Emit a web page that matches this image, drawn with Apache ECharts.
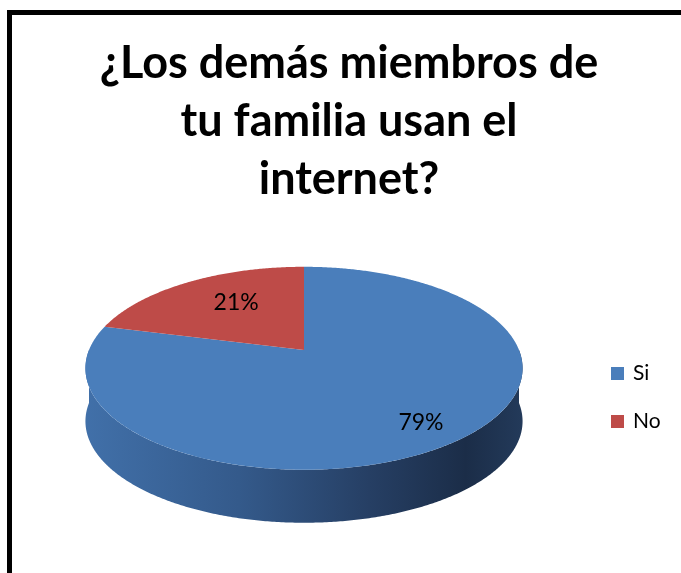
<!DOCTYPE html>
<html><head><meta charset="utf-8">
<script src="https://cdn.jsdelivr.net/npm/echarts@6/dist/echarts.min.js"></script>
<style>html,body{margin:0;padding:0;background:#fff}#c{width:681px;height:573px}</style>
</head><body><div id="c"></div>
<script>
const titleText = '¿Los demás miembros de\ntu familia usan el\ninternet?';
const categories = ['Si', 'No'];
const values = [79, 21];
const topColors = ['#4a7ebb', '#be4b48'];

const chart = echarts.init(document.getElementById('c'), null, {renderer: 'canvas'});
const total = values.reduce((a, b) => a + b, 0);
const starts = [];
let acc = 0;
values.forEach(v => { starts.push(acc); acc += v; });

// projection settings (style/layout)
const P = {cx: 304, cy: 350, kx: 215, ky: 98.2, s: 0.18, depth: 53};
const labelR = [0.8, 0.6];
const labelNudge = [[-2, 3], [5, -5]];
function proj(theta, r) {
  const u = r * Math.sin(theta), v = -r * Math.cos(theta);
  const w = 1 - P.s * v;
  return [P.cx + P.kx * u / w, P.cy + P.ky * v / w];
}
function arc(a0, a1, dy) {
  const pts = [];
  const n = Math.max(6, Math.ceil(Math.abs(a1 - a0) / (Math.PI / 360)));
  for (let k = 0; k <= n; k++) {
    const p = proj(a0 + (a1 - a0) * k / n, 1);
    pts.push([p[0], p[1] + dy]);
  }
  return pts;
}
const sideGradient = new echarts.graphic.LinearGradient(0, 0, 1, 0, [
  {offset: 0, color: '#4170a9'},
  {offset: 0.35, color: '#345a8b'},
  {offset: 0.65, color: '#263f64'},
  {offset: 0.87, color: '#1b2d48'},
  {offset: 1, color: '#233a5a'}
]);
function makeRender(i) {
  return function (params, api) {
    const a0 = starts[i] / total * 2 * Math.PI;
    const a1 = (starts[i] + values[i]) / total * 2 * Math.PI;
    const children = [];
    const f0 = Math.max(a0, Math.PI / 2), f1 = Math.min(a1, 3 * Math.PI / 2);
    if (f1 > f0) {
      const upper = arc(f0, f1, 0);
      const lower = arc(f1, f0, P.depth);
      children.push({type: 'polygon', z2: 0, shape: {points: upper.concat(lower)}, style: {fill: i === 0 ? sideGradient : api.visual('color')}});
    }
    const topPts = [[P.cx, P.cy]].concat(arc(a0, a1, 0));
    children.push({type: 'polygon', z2: 10, shape: {points: topPts}, style: {fill: api.visual('color')}});
    const lp = proj((a0 + a1) / 2, labelR[i]);
    children.push({type: 'text', z2: 20, x: lp[0] + labelNudge[i][0], y: lp[1] + labelNudge[i][1], style: {
      text: Math.round(values[i] / total * 100) + '%', fill: '#000',
      font: '23px Lato', align: 'center', verticalAlign: 'middle'}});
    return {type: 'group', children: children};
  };
}

const option = {
  animation: false,
  backgroundColor: '#fff',
  title: {
    text: titleText,
    left: 344,
    top: 29,
    textAlign: 'center',
    textStyle: {fontFamily: 'Lato', fontWeight: 'bold', fontSize: 45, lineHeight: 58, color: '#000'}
  },
  legend: {
    data: categories,
    orient: 'vertical',
    left: 606,
    top: 358,
    icon: 'rect',
    itemWidth: 13,
    itemHeight: 13,
    itemGap: 27,
    textStyle: {fontFamily: 'Lato', fontSize: 21, lineHeight: 21, color: '#000', padding: [0, 0, 0, 4]}
  },
  graphic: [{
    type: 'rect', shape: {x: 9.5, y: 12.5, width: 720, height: 620},
    style: {fill: 'none', stroke: '#000', lineWidth: 5}, silent: true
  }],
  series: categories.map((name, i) => ({
    type: 'custom',
    name: name,
    coordinateSystem: 'none',
    itemStyle: {color: topColors[i]},
    data: [values[i]],
    renderItem: makeRender(i)
  }))
};
chart.setOption(option);
</script>
</body></html>
